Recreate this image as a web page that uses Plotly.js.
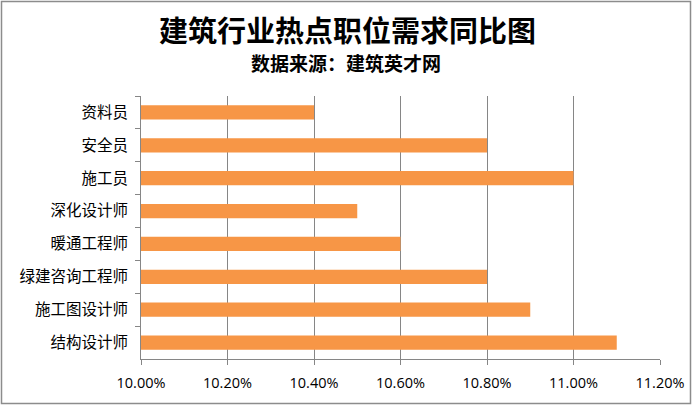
<!DOCTYPE html>
<html>
<head>
<meta charset="utf-8">
<script src="https://cdn.plot.ly/plotly-3.0.1.min.js"></script>
<style>
html,body{margin:0;padding:0;background:#fff;}
#chart{width:694px;height:405px;}
</style>
</head>
<body>
<div id="chart"></div>
<script>
const categories = ["资料员","安全员","施工员","深化设计师","暖通工程师","绿建咨询工程师","施工图设计师","结构设计师"];
const values = [0.104, 0.108, 0.110, 0.105, 0.106, 0.108, 0.109, 0.111];
const xTickValues = [0.100, 0.102, 0.104, 0.106, 0.108, 0.110, 0.112];
const xTickLabels = ["10.00%","10.20%","10.40%","10.60%","10.80%","11.00%","11.20%"];
const titleText = "建筑行业热点职位需求同比图";
const subtitleText = "数据来源：建筑英才网";

const cjk = '"Noto Sans CJK SC", "Noto Sans", sans-serif';
const L = 141, R = 660, T = 96, B = 359, W = 694, H = 405;
const px = x => (x - L) / (R - L);
const py = y => (B - y) / (B - T);

const trace = {
  type: 'bar',
  orientation: 'h',
  x: values,
  y: categories,
  marker: {color: '#F79646', line: {width: 0}},
  hoverinfo: 'x+y'
};

const layout = {
  width: W, height: H,
  margin: {l: L, r: W - R, t: T, b: H - B, pad: 0},
  paper_bgcolor: '#ffffff',
  plot_bgcolor: '#ffffff',
  showlegend: false,
  bargap: 0.57,
  font: {family: cjk, color: '#000'},
  xaxis: {
    range: [0.100, 0.112],
    tickvals: xTickValues,
    ticktext: xTickLabels,
    showgrid: true,
    gridcolor: '#868686',
    gridwidth: 1,
    zeroline: false,
    showline: true,
    linecolor: '#868686',
    linewidth: 1,
    ticks: 'outside',
    ticklen: 5,
    tickcolor: '#868686',
    ticklabelstandoff: 6,
    tickfont: {family: '"Open Sans", "Liberation Sans", sans-serif', size: 14.5, color: '#000'}
  },
  yaxis: {
    type: 'category',
    categoryorder: 'array',
    categoryarray: categories,
    autorange: 'reversed',
    showgrid: false,
    zeroline: false,
    showline: true,
    linecolor: '#868686',
    linewidth: 1,
    ticks: 'outside',
    tickson: 'boundaries',
    ticklen: 5,
    tickcolor: '#868686',
    ticklabelstandoff: 9,
    tickfont: {family: cjk, size: 15.5, color: '#000'}
  },
  annotations: [
    {text: '<b>' + titleText + '</b>', xref: 'paper', yref: 'paper', x: px(347), y: py(28.5),
     xanchor: 'center', yanchor: 'middle', showarrow: false,
     font: {family: cjk, size: 29, color: '#000'}},
    {text: '<b>' + subtitleText + '</b>', xref: 'paper', yref: 'paper', x: px(346), y: py(63),
     xanchor: 'center', yanchor: 'middle', showarrow: false,
     font: {family: cjk, size: 19, color: '#000'}}
  ],
  shapes: [
    {type: 'rect', xref: 'paper', yref: 'paper', x0: px(1.5), x1: px(690.5), y0: py(1.5), y1: py(403.5),
     line: {color: '#8c8c8c', width: 1.5}, fillcolor: 'rgba(0,0,0,0)', layer: 'above'}
  ]
};

Plotly.newPlot('chart', [trace], layout, {displayModeBar: false, staticPlot: true});
</script>
</body>
</html>
